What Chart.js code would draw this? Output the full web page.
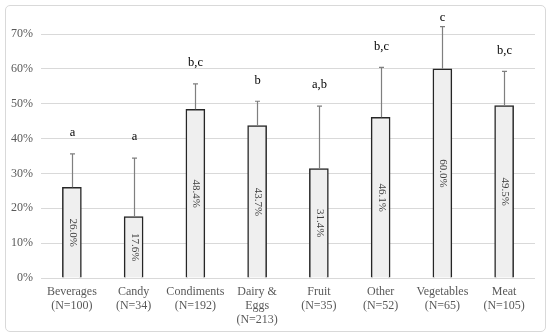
<!DOCTYPE html>
<html>
<head>
<meta charset="utf-8">
<script src="https://cdn.jsdelivr.net/npm/chart.js@4.4.0/dist/chart.umd.min.js"></script>
<style>
    body { margin: 0; background: #fff; }
    #box { position: absolute; left: 5px; top: 5px; width: 539px; height: 325px; border: 1px solid #d9d9d9; border-radius: 5px; }
    #wrap { position: absolute; left: 0; top: 0; width: 550px; height: 336px; }
</style>
</head>
<body>
<div id="box"></div>
<div id="wrap"><canvas id="canvas"></canvas></div>
<script>
const categories = [
    ["Beverages", "(N=100)"],
    ["Candy", "(N=34)"],
    ["Condiments", "(N=192)"],
    ["Dairy &", "Eggs", "(N=213)"],
    ["Fruit", "(N=35)"],
    ["Other", "(N=52)"],
    ["Vegetables", "(N=65)"],
    ["Meat", "(N=105)"]
];
const values = [26.0, 17.6, 48.4, 43.7, 31.4, 46.1, 60.0, 49.5];
const errors = [9.6, 16.8, 7.3, 7.0, 17.9, 14.3, 12.1, 9.8];
const letters = ["a", "a", "b,c", "b", "a,b", "b,c", "c", "b,c"];
const yTicks = [0, 10, 20, 30, 40, 50, 60, 70];

const serif = "'Liberation Serif', 'Times New Roman', serif";

// error bars, significance letters and rotated value labels
const extras = {
    id: "extras",
    afterDatasetsDraw(chart) {
        const ctx = chart.ctx;
        const y = chart.scales.y;
        const meta = chart.getDatasetMeta(0);
        ctx.save();
        for (let i = 0; i < values.length; i++) {
            const bar = meta.data[i];
            const x = Math.round(bar.x) + 0.5;
            const top = y.getPixelForValue(values[i]);
            const end = y.getPixelForValue(values[i] + errors[i]);

            ctx.strokeStyle = "#7f7f7f";
            ctx.lineWidth = 1.2;
            ctx.beginPath();
            ctx.moveTo(x, top);
            ctx.lineTo(x, end);
            ctx.moveTo(x - 2.5, end);
            ctx.lineTo(x + 2.5, end);
            ctx.stroke();

            ctx.fillStyle = "#000";
            ctx.font = "12.5px " + serif;
            ctx.textAlign = "center";
            ctx.textBaseline = "middle";
            ctx.fillText(letters[i], x, Math.max(end - 21, 18));

            ctx.save();
            ctx.translate(x, (top + y.getPixelForValue(0)) / 2);
            ctx.rotate(Math.PI / 2);
            ctx.fillStyle = "#404040";
            ctx.font = "11px " + serif;
            ctx.fillText(values[i].toFixed(1) + "%", 0, 0);
            ctx.restore();
        }
        ctx.restore();
    }
};

new Chart(document.getElementById("canvas"), {
    type: "bar",
    data: {
        labels: categories,
        datasets: [{
            data: values,
            backgroundColor: "#efefef",
            borderColor: "#262626",
            borderWidth: { top: 1.5, left: 1.5, right: 1.5, bottom: 0 },
            borderSkipped: "start",
            barThickness: 19
        }]
    },
    options: {
        responsive: true,
        maintainAspectRatio: false,
        animation: false,
        layout: { padding: { left: 0, right: 15, top: 34, bottom: 0 } },
        plugins: { legend: { display: false }, tooltip: { enabled: false } },
        scales: {
            x: {
                grid: { display: false, drawTicks: false },
                border: { display: false },
                ticks: {
                    color: "#595959",
                    font: { family: serif, size: 12, lineHeight: 1.17 },
                    padding: 7,
                    maxRotation: 0,
                    autoSkip: false
                },
                afterFit(s) { s.height = 58; }
            },
            y: {
                min: 0,
                max: 70,
                afterBuildTicks(s) { s.ticks = yTicks.map(v => ({ value: v })); },
                grid: { color: "#d9d9d9", lineWidth: 1, drawTicks: false },
                border: { display: false },
                ticks: {
                    color: "#595959",
                    font: { family: serif, size: 12 },
                    padding: 8,
                    callback: v => v + "%"
                },
                afterFit(s) { s.width = 41; }
            }
        }
    },
    plugins: [extras]
});
</script>
</body>
</html>
